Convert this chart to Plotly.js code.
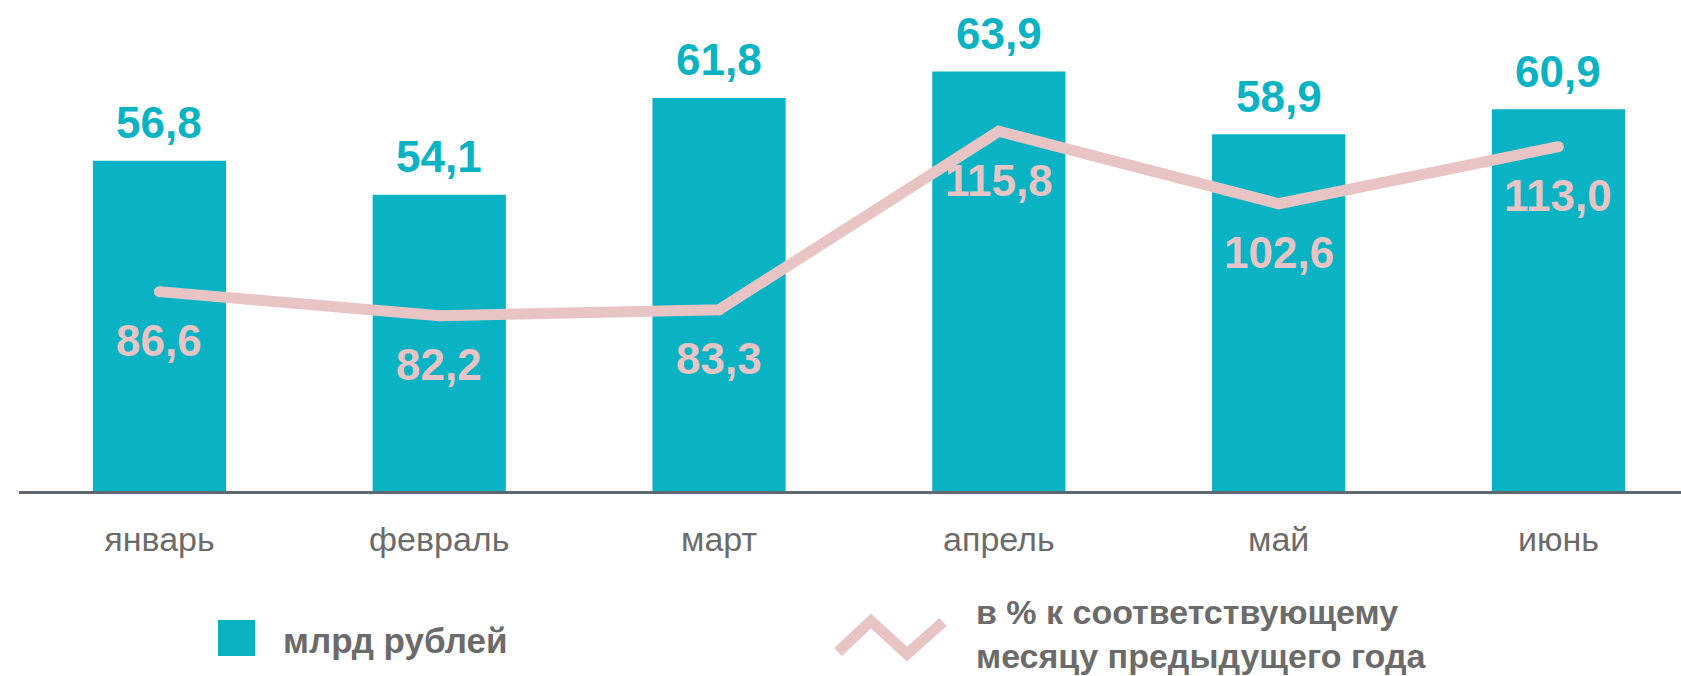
<!DOCTYPE html>
<html>
<head>
<meta charset="utf-8">
<script src="https://cdn.plot.ly/plotly-3.0.1.min.js"></script>
<style>
html,body{margin:0;padding:0;background:#fff;}
#chart{width:1681px;height:676px;}
</style>
</head>
<body>
<div id="chart"></div>
<script>
// ---- data ----
const months = ["январь", "февраль", "март", "апрель", "май", "июнь"];
const amountBn = [56.8, 54.1, 61.8, 63.9, 58.9, 60.9];      // млрд рублей
const pctPrevYear = [86.6, 82.2, 83.3, 115.8, 102.6, 113.0]; // в % к соответствующему месяцу предыдущего года
const legendBars = "млрд рублей";
const legendLineRows = ["в % к соответствующему", "месяцу предыдущего года"];

// ---- styling ----
const TEAL = "#0AB3C4";
const PINK = "#E8C4C4";
const GREY = "#6B6B6B";
const FONT = "Liberation Sans, Arial, sans-serif";

const W = 1681, H = 676;
const M = {l: 19, r: 0, t: 0, b: 185};
const PW = W - M.l - M.r, PH = H - M.t - M.b;
const px2x = px => (px - M.l) / PW;
const px2y = py => (M.t + PH - py) / PH;
const fmt = v => v.toFixed(1).replace(".", ",");

const barTrace = {
  type: "bar",
  x: months,
  y: amountBn,
  width: 0.476,
  marker: {color: TEAL, line: {width: 0}},
  yaxis: "y",
  hoverinfo: "skip",
  showlegend: false
};

const lineTrace = {
  type: "scatter",
  mode: "lines+markers",
  x: months,
  y: pctPrevYear,
  line: {color: PINK, width: 11},
  marker: {color: PINK, size: 11},
  yaxis: "y2",
  hoverinfo: "skip",
  showlegend: false
};

const annotations = [];
months.forEach((m, i) => {
  annotations.push({
    x: m, y: amountBn[i], xref: "x", yref: "y",
    text: "<b>" + fmt(amountBn[i]) + "</b>",
    showarrow: false, yanchor: "middle", xanchor: "center", yshift: 38,
    font: {family: FONT, size: 44, color: TEAL}
  });
  annotations.push({
    x: m, y: pctPrevYear[i], xref: "x", yref: "y2",
    text: "<b>" + fmt(pctPrevYear[i]) + "</b>",
    showarrow: false, yanchor: "middle", xanchor: "center", yshift: -49,
    font: {family: FONT, size: 44, color: PINK}
  });
});
// custom legend texts
annotations.push({
  x: px2x(281), y: px2y(640), xref: "paper", yref: "paper",
  text: "<b>" + legendBars + "</b>", showarrow: false,
  xanchor: "left", yanchor: "middle", align: "left",
  font: {family: FONT, size: 35, color: GREY}
});
annotations.push({
  x: px2x(975), y: px2y(676), xref: "paper", yref: "paper",
  text: legendLineRows.map(r => "<b>" + r + "</b>").join("<br>"),
  showarrow: false, borderpad: 0,
  xanchor: "left", yanchor: "bottom", align: "left",
  font: {family: FONT, size: 34, color: GREY}
});

const shapes = [
  {type: "rect", xref: "paper", yref: "paper",
   x0: px2x(218), x1: px2x(255), y0: px2y(656), y1: px2y(620),
   fillcolor: TEAL, line: {width: 0}},
  {type: "path", xref: "paper", yref: "paper",
   path: "M " + px2x(838) + " " + px2y(652) +
         " L " + px2x(871) + " " + px2y(621) +
         " L " + px2x(907) + " " + px2y(654) +
         " L " + px2x(943) + " " + px2y(622),
   line: {color: PINK, width: 11}}
];

const layout = {
  width: W, height: H,
  margin: M,
  paper_bgcolor: "#fff", plot_bgcolor: "#fff",
  showlegend: false,
  xaxis: {
    type: "category",
    range: [-0.502, 5.438],
    showline: true, linecolor: "#5F6770", linewidth: 3,
    showgrid: false, zeroline: false, ticks: "",
    ticklabelstandoff: 16,
    tickfont: {family: FONT, size: 34, color: GREY},
    fixedrange: true
  },
  yaxis: {range: [30.5, 69.6], visible: false, fixedrange: true},
  yaxis2: {range: [50.3, 139.7], overlaying: "y", side: "right", visible: false, fixedrange: true},
  annotations: annotations,
  shapes: shapes
};

Plotly.newPlot("chart", [barTrace, lineTrace], layout, {staticPlot: true, displayModeBar: false});
</script>
</body>
</html>
